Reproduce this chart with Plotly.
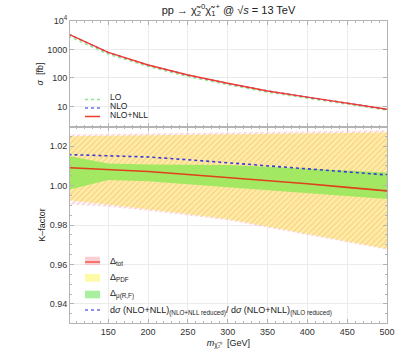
import plotly.graph_objects as go

# ---------------- data ----------------
mass = [100, 150, 200, 250, 300, 350, 400, 450, 500]

sigma_lo = [2940, 687, 254, 113, 58.5, 31.8, 19.5, 11.9, 7.5]
sigma_nlo = [3468, 784, 285, 126.3, 64.7, 34.9, 21.28, 12.91, 8.02]
sigma_nll = [3500, 790, 287, 127, 65, 35, 21.3, 12.9, 8.0]

k_central = [1.0091, 1.0081, 1.0071, 1.0056, 1.0041, 1.0025, 1.0009, 0.9991, 0.9973]
k_reduced = [1.0157, 1.0152, 1.0145, 1.0131, 1.0116, 1.0100, 1.0085, 1.0070, 1.0054]
mu_hi = [1.0150, 1.0112, 1.0107, 1.0106, 1.0104, 1.0096, 1.0086, 1.0076, 1.0066]
mu_lo = [0.9978, 1.0028, 1.0022, 1.0007, 0.9991, 0.9976, 0.9961, 0.9946, 0.9932]
pdf_hi = [1.0250, 1.0252, 1.0254, 1.0257, 1.0260, 1.0262, 1.0265, 1.0267, 1.0269]
pdf_lo = [0.9926, 0.9904, 0.9881, 0.9856, 0.9831, 0.9794, 0.9756, 0.9718, 0.9680]
tot_hi = [1.0259, 1.0262, 1.0265, 1.0268, 1.0271, 1.0274, 1.0276, 1.0278, 1.0280]
tot_lo = [0.9905, 0.9892, 0.9872, 0.9848, 0.9824, 0.9787, 0.9750, 0.9712, 0.9674]

x_ticks = [150, 200, 250, 300, 350, 400, 450, 500]
sig_ticks = [10, 100, 1000, 10000]
sig_ticktext = ["10", "100", "1000", "10<sup>4</sup>"]
k_ticks = [0.94, 0.96, 0.98, 1.00, 1.02]
k_ticktext = ["0.94", "0.96", "0.98", "1.00", "1.02"]

FONT = "Liberation Sans, Arial, sans-serif"
GRID = "#ebebeb"
FRAME = "#b4b4b4"
TXT = "#222222"

RED = "#f03a2a"
BLUE = "#3a3ad8"
GREEN_DOT = "#8fe88f"

fig = go.Figure()


def band(lo, hi):
    return mass + mass[::-1], hi + lo[::-1]


# ---------------- bottom panel (K-factor) ----------------
bx, by = band(tot_lo, tot_hi)
fig.add_trace(go.Scatter(
    x=bx, y=by, fill="toself", mode="lines", line=dict(width=0),
    fillcolor="rgba(0,0,0,0)",
    fillpattern=dict(shape="/", fgcolor="#f7a3ad", bgcolor="rgba(255,255,255,0)",
                     size=4, solidity=0.5),
    xaxis="x", yaxis="y", showlegend=False, hoverinfo="skip"))

bx, by = band(pdf_lo, pdf_hi)
fig.add_trace(go.Scatter(
    x=bx, y=by, fill="toself", mode="lines", line=dict(width=0),
    fillcolor="rgba(0,0,0,0)",
    fillpattern=dict(shape="/", fgcolor="#f6c26c", bgcolor="#ffefac",
                     size=4, solidity=0.5),
    xaxis="x", yaxis="y", showlegend=False, hoverinfo="skip"))

bx, by = band(mu_lo, mu_hi)
fig.add_trace(go.Scatter(
    x=bx, y=by, fill="toself", mode="lines", line=dict(width=0),
    fillcolor="rgba(150,232,90,0.88)",
    xaxis="x", yaxis="y", showlegend=False, hoverinfo="skip"))

fig.add_trace(go.Scatter(
    x=mass, y=k_reduced, mode="lines", line=dict(color=BLUE, width=1.6, dash="dot"),
    xaxis="x", yaxis="y", showlegend=False))
fig.add_trace(go.Scatter(
    x=mass, y=k_central, mode="lines", line=dict(color="#e0401c", width=1.6),
    xaxis="x", yaxis="y", showlegend=False))

# ---------------- top panel (cross sections) ----------------
fig.add_trace(go.Scatter(
    x=mass, y=sigma_lo, mode="lines", line=dict(color=GREEN_DOT, width=1.5, dash="dot"),
    xaxis="x2", yaxis="y2", showlegend=False))
fig.add_trace(go.Scatter(
    x=mass, y=sigma_nlo, mode="lines", line=dict(color="#7070f0", width=1.5, dash="dot"),
    xaxis="x2", yaxis="y2", showlegend=False))
fig.add_trace(go.Scatter(
    x=mass, y=sigma_nll, mode="lines", line=dict(color=RED, width=1.5),
    xaxis="x2", yaxis="y2", showlegend=False))

SPLIT = 0.649

axis_common = dict(
    showline=True, mirror="ticks", linecolor=FRAME, linewidth=1,
    gridcolor=GRID, gridwidth=1, ticks="inside", ticklen=4, tickcolor=FRAME,
    zeroline=False, tickfont=dict(family=FONT, size=9, color="#333333"),
)

fig.update_layout(
    width=407, height=358,
    margin=dict(l=70, r=20, t=21, b=35),
    paper_bgcolor="white", plot_bgcolor="white",
    font=dict(family=FONT, size=9, color=TXT),
    showlegend=False,
    title=dict(
        text="pp \u2192 \u03c7\u0303<sub>2</sub><sup>0</sup>\u03c7\u0303<sub>1</sub><sup>+</sup> @ \u221a<i>s</i> = 13 TeV",
        x=0.5, xref="paper", xanchor="center",
        y=1 - 10 / 358, yref="container", yanchor="middle",
        font=dict(family=FONT, size=11, color=TXT)),
    xaxis=dict(
        **axis_common, domain=[0, 1], anchor="y", range=[102, 500],
        tickvals=x_ticks, ticktext=[str(v) for v in x_ticks],
        minor=dict(dtick=10, ticks="inside", ticklen=2, tickcolor=FRAME, showgrid=False),
        title=dict(text="<i>m</i><sub>\u03c7\u0303\u2082\u2070</sub>  [GeV]", standoff=3,
                   font=dict(family=FONT, size=9, color=TXT)),
    ),
    yaxis=dict(
        **axis_common, domain=[0, SPLIT], anchor="x", range=[0.9303, 1.0297],
        tickvals=k_ticks, ticktext=k_ticktext,
        minor=dict(dtick=0.005, ticks="inside", ticklen=2, tickcolor=FRAME, showgrid=False),
        title=dict(text="K\u2013factor", standoff=2,
                   font=dict(family=FONT, size=9, color=TXT)),
    ),
    xaxis2=dict(
        **axis_common, domain=[0, 1], anchor="y2", matches="x", range=[102, 500],
        tickvals=x_ticks, showticklabels=False,
        minor=dict(dtick=10, ticks="inside", ticklen=2, tickcolor=FRAME, showgrid=False),
    ),
    yaxis2=dict(
        **axis_common, domain=[SPLIT, 1], anchor="x2", type="log", range=[0.28, 4.0],
        tickvals=sig_ticks, ticktext=sig_ticktext,
        title=dict(text="<i>\u03c3</i>  [fb]", standoff=2,
                   font=dict(family=FONT, size=9, color=TXT)),
    ),
)

# ---------------- hand-placed legends ----------------
def py(p):
    return (323 - p) / 302.0


def px(p):
    return (p - 70) / 317.0


X0, X1, XT = px(85), px(100), px(108)
shapes = []
ann = []

# top legend
top_items = [
    ("LO", GREEN_DOT, "dot", 99.5, 97),
    ("NLO", "#7070f0", "dot", 108, 106),
    ("NLO+NLL", RED, "solid", 116.5, 115),
]
for label, col, dash, ly, ty in top_items:
    shapes.append(dict(type="line", xref="paper", yref="paper", x0=X0, x1=X1,
                       y0=py(ly), y1=py(ly), line=dict(color=col, width=1.5, dash=dash)))
    ann.append(dict(text=label, xref="paper", yref="paper", x=XT, y=py(ty),
                    xanchor="left", yanchor="middle", showarrow=False,
                    font=dict(family=FONT, size=8.5, color=TXT)))

# bottom legend
shapes.append(dict(type="rect", xref="paper", yref="paper", x0=X0, x1=X1,
                   y0=py(265), y1=py(256.7), line=dict(width=0),
                   fillcolor="rgba(248,170,178,0.55)"))
shapes.append(dict(type="line", xref="paper", yref="paper", x0=X0, x1=X1,
                   y0=py(262), y1=py(262), line=dict(color=RED, width=1.2)))
shapes.append(dict(type="rect", xref="paper", yref="paper", x0=X0, x1=X1,
                   y0=py(281.7), y1=py(274), line=dict(width=0), fillcolor="#fdfaa8"))
shapes.append(dict(type="rect", xref="paper", yref="paper", x0=X0, x1=X1,
                   y0=py(298.3), y1=py(290.7), line=dict(width=0), fillcolor="#a8f0a0"))
shapes.append(dict(type="line", xref="paper", yref="paper", x0=X0, x1=X1,
                   y0=py(310), y1=py(310), line=dict(color="#6a6af0", width=1.5, dash="dot")))

bottom_labels = [
    ("\u0394<sub>tot</sub>", 261),
    ("\u0394<sub>PDF</sub>", 277),
    ("\u0394<sub>\u03bc(R,F)</sub>", 293.5),
    ("d<i>\u03c3</i> (NLO+NLL)<sub>(NLO+NLL reduced)</sub>/ d<i>\u03c3</i> (NLO+NLL)<sub>(NLO reduced)</sub>", 310.5),
]
for label, ty in bottom_labels:
    ann.append(dict(text=label, xref="paper", yref="paper", x=XT, y=py(ty),
                    xanchor="left", yanchor="middle", showarrow=False,
                    font=dict(family=FONT, size=9, color=TXT)))

fig.update_layout(shapes=shapes, annotations=ann)

fig.write_html(
    "out.html",
    config={"displayModeBar": False},
    post_script="document.documentElement.style.margin='0';"
                "document.body.style.margin='0';document.body.style.padding='0';"
                "document.body.style.overflow='hidden';",
)
